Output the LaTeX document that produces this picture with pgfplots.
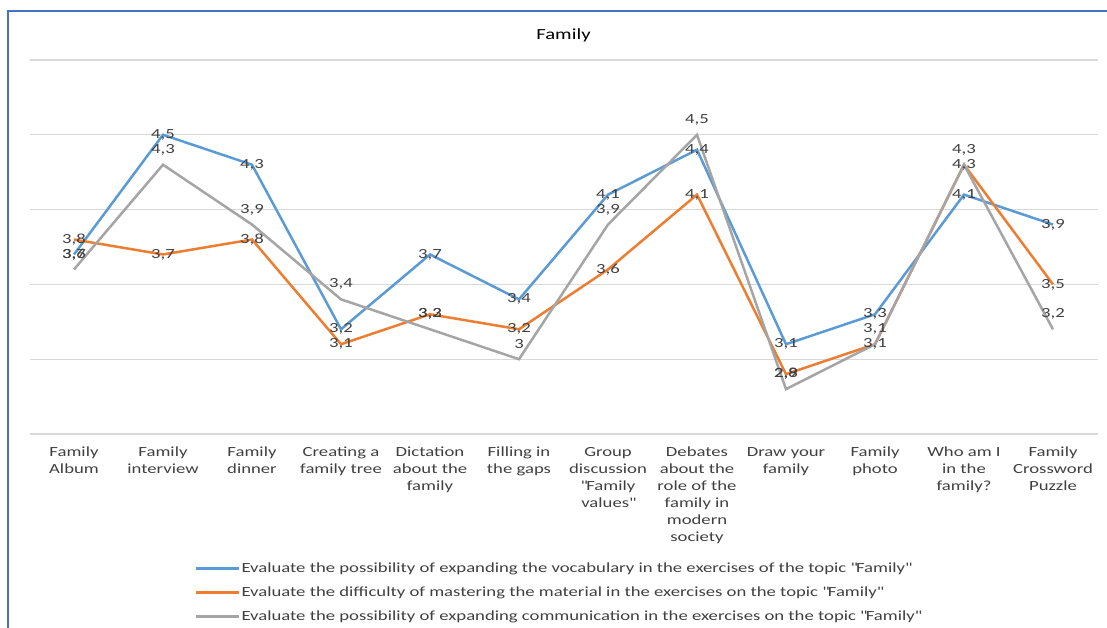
\documentclass[border=0pt]{standalone}
\usepackage{fontspec}
\setmainfont{Carlito}[FakeStretch=1.34]
\usepackage{pgfplots}
\pgfplotsset{compat=1.18}
\definecolor{sblue}{HTML}{5B9BD5}
\definecolor{sorange}{HTML}{ED7D31}
\definecolor{sgray}{HTML}{A5A5A5}
\definecolor{frame}{HTML}{4472C4}
\definecolor{gridc}{HTML}{D9D9D9}
\definecolor{txt}{HTML}{404040}
\newcommand\lbl{\fontsize{14}{17}\selectfont}
\newcommand\q{\textquotedbl}
\begin{document}
\begin{tikzpicture}[x=1bp,y=1bp]
\path[use as bounding box] (0,0) rectangle (1107,628);
\draw[frame, line width=2bp] (7.5,0) -- (7.5,616.5) -- (1107,616.5);
\begin{axis}[
  at={(29.5bp,194bp)}, anchor=south west,
  scale only axis, width=1068bp, height=374bp,
  xmin=-0.5, xmax=11.5, ymin=2.5, ymax=5,
  axis line style={draw=none},
  ytick={2.5,3,3.5,4,4.5,5}, yticklabels={},
  ymajorgrids, grid style={gridc, line width=1.2bp},
  major tick length=0pt,
  xtick={0,...,11},
  xticklabels={Family\\Album, Family\\interview, Family\\dinner, Creating a\\family tree, Dictation\\about the\\family, Filling in\\the gaps, Group\\discussion\\\q Family\\values\q, Debates\\about the\\role of the\\family in\\modern\\society, Draw your\\family, Family\\photo, Who am I\\in the\\family?, Family\\Crossword\\Puzzle},
  xticklabel style={align=center, font=\lbl, text=txt, anchor=north, inner sep=0pt, yshift=-13bp},
  title={Family},
  title style={at={(axis description cs:0.5,1.05)}, anchor=center, font=\fontsize{15.5}{18}\selectfont, text=black},
  clip=false,
  /pgf/number format/assume math mode=true,
  nodes near coords={\pgfmathprintnumber[use comma,fixed,precision=1,assume math mode=true]{\pgfplotspointmeta}},
  every node near coord/.append style={font=\lbl, text=txt, anchor=center, inner sep=0pt},
  legend style={at={(axis description cs:0.1545,-0.328)}, anchor=north west, draw=none, fill=none,
    inner sep=0pt, row sep=0pt, font=\lbl, text=txt,
    nodes={inner xsep=1bp, inner ysep=5.5bp, text height=10bp, text depth=3bp, anchor=west}},
  legend cell align=left,
  legend image code/.code={\draw[#1, line width=2.8bp] (0bp,0bp) -- (43bp,0bp);},
]
\addplot[sblue, line width=2.5bp] coordinates {(0,3.7) (1,4.5) (2,4.3) (3,3.2) (4,3.7) (5,3.4) (6,4.1) (7,4.4) (8,3.1) (9,3.3) (10,4.1) (11,3.9)};
\addlegendentry{Evaluate the possibility of expanding the vocabulary in the exercises of the topic \q Family\q}
\addplot[sorange, line width=2.5bp] coordinates {(0,3.8) (1,3.7) (2,3.8) (3,3.1) (4,3.3) (5,3.2) (6,3.6) (7,4.1) (8,2.9) (9,3.1) (10,4.3) (11,3.5)};
\addlegendentry{Evaluate the difficulty of mastering the material in the exercises on the topic \q Family\q}
\addplot[sgray, line width=2.5bp, every node near coord/.append style={yshift=15bp}] coordinates {(0,3.6) (1,4.3) (2,3.9) (3,3.4) (4,3.2) (5,3.0) (6,3.9) (7,4.5) (8,2.8) (9,3.1) (10,4.3) (11,3.2)};
\addlegendentry{Evaluate the possibility of expanding communication in the exercises on the topic \q Family\q}
\end{axis}
\end{tikzpicture}
\end{document}
